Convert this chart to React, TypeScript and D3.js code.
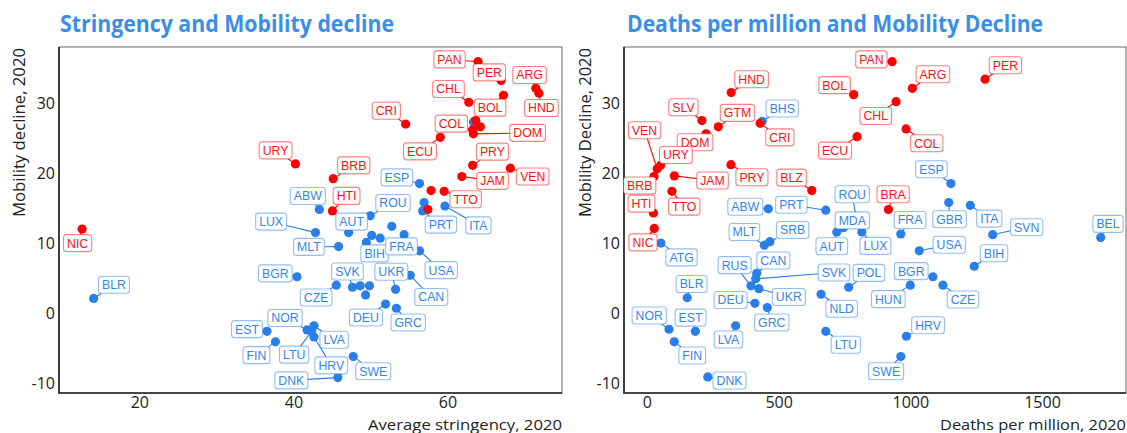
import { useEffect, useRef } from "react";
import * as d3 from "d3";

const latinAmerica = [
  "PAN", "PER", "ARG", "HND", "BOL", "CHL", "CRI", "SLV", "GTM", "COL", "DOM",
  "ECU", "PRY", "VEN", "JAM", "BLZ", "TTO", "BRA", "BRB", "HTI", "URY", "NIC",
];

// [country, average stringency, mobility decline]
const stringencyPoints: [string, number, number][] = [
  ["BLR", 14.0, 2.2], ["ABW", 43.3, 14.9], ["LUX", 42.8, 11.6], ["MLT", 45.8, 9.6],
  ["AUT", 47.1, 11.6], ["ROU", 49.9, 14.0], ["ESP", 56.3, 18.6], ["GBR", 56.9, 15.9],
  ["PRT", 56.7, 14.7], ["ITA", 59.6, 15.4], ["MDA", 52.7, 12.5], ["SVN", 50.1, 11.2],
  ["BEL", 51.2, 10.8], ["BIH", 49.4, 10.2], ["FRA", 54.3, 11.3], ["USA", 56.3, 9.0],
  ["CAN", 55.1, 5.5], ["BGR", 40.4, 5.3], ["CZE", 45.5, 4.1], ["SVK", 47.6, 3.8],
  ["RUS", 48.6, 4.0], ["HUN", 49.8, 4.0], ["NLD", 49.3, 2.7], ["UKR", 53.2, 3.5],
  ["DEU", 51.9, 1.4], ["GRC", 53.3, 0.8], ["EST", 36.5, -2.5], ["FIN", 37.6, -4.0],
  ["NOR", 41.7, -2.3], ["LTU", 42.3, -2.5], ["LVA", 42.6, -1.7], ["HRV", 42.6, -3.3],
  ["SWE", 47.7, -6.1], ["DNK", 45.7, -9.1], ["BHS", 63.3, 27.4],
  ["PAN", 63.9, 36.0], ["PER", 66.9, 33.3], ["ARG", 71.4, 32.2], ["HND", 71.8, 31.5],
  ["BOL", 67.2, 31.2], ["CHL", 62.7, 30.2], ["CRI", 54.5, 27.1], ["SLV", 63.6, 27.6],
  ["GTM", 64.2, 26.7], ["COL", 63.2, 26.3], ["DOM", 63.3, 25.7], ["ECU", 59.0, 25.2],
  ["PRY", 63.2, 21.2], ["VEN", 68.1, 20.8], ["JAM", 61.8, 19.6], ["BLZ", 57.8, 17.6],
  ["TTO", 59.5, 17.5], ["BRA", 57.4, 14.9], ["BRB", 45.1, 19.3], ["HTI", 45.0, 14.7],
  ["URY", 40.2, 21.4], ["NIC", 12.5, 12.1],
];

// [country, deaths per million, mobility decline]
const deathsPoints: [string, number, number][] = [
  ["BHS", 436, 27.5], ["ESP", 1152, 18.6], ["GBR", 1144, 15.9], ["ITA", 1226, 15.5],
  ["ROU", 792, 13.8], ["MDA", 744, 12.3], ["AUT", 719, 11.7], ["LUX", 814, 11.7],
  ["FRA", 962, 11.4], ["SVN", 1311, 11.3], ["BEL", 1721, 10.9], ["USA", 1032, 9.0],
  ["BIH", 1241, 6.8], ["BGR", 1084, 5.3], ["CZE", 1122, 4.1], ["HUN", 998, 4.1],
  ["POL", 764, 3.8], ["HRV", 983, -3.2], ["SWE", 962, -6.1], ["NLD", 659, 2.8],
  ["LTU", 677, -2.5], ["PRT", 677, 14.8], ["ABW", 459, 15.0], ["MLT", 444, 9.8],
  ["SRB", 465, 10.3], ["ATG", 51, 10.1], ["RUS", 393, 4.0], ["CAN", 415, 5.8],
  ["SVK", 411, 5.0], ["UKR", 423, 3.6], ["DEU", 408, 1.5], ["GRC", 455, 0.9],
  ["BLR", 151, 2.3], ["NOR", 82, -2.2], ["EST", 182, -2.5], ["FIN", 102, -4.0],
  ["LVA", 335, -1.7], ["DNK", 229, -9.0],
  ["PAN", 929, 36.0], ["PER", 1282, 33.5], ["ARG", 1006, 32.2], ["BOL", 783, 31.3],
  ["CHL", 944, 30.3], ["ECU", 796, 25.3], ["COL", 982, 26.4], ["BRA", 915, 14.9],
  ["HND", 318, 31.6], ["SLV", 207, 27.6], ["GTM", 269, 26.7], ["DOM", 223, 25.7],
  ["CRI", 428, 27.2], ["VEN", 37, 20.7], ["URY", 50, 21.2], ["JAM", 102, 19.7],
  ["PRY", 317, 21.3], ["BLZ", 624, 17.6], ["TTO", 93, 17.5], ["BRB", 25, 19.6],
  ["HTI", 23, 14.4], ["NIC", 26, 12.2],
];

const mobilityTicks = [-10, 0, 10, 20, 30];
const stringencyTicks = [20, 40, 60];
const deathsTicks = [0, 500, 1000, 1500];

const mobilityDomain = [-11.3, 38.1];
const stringencyDomain = [9.5, 74.8];
const deathsDomain = [-89, 1817];

// where the repelled labels ended up, relative to their point (px)
const stringencyNudge: Record<string, [number, number]> = {
  PAN: [-28.5, -2.3], PER: [-11.8, -8.2], ARG: [-6.2, -13.3], HND: [2.5, 14.7],
  CHL: [-20.3, -13.3], BOL: [-13.4, 12.3], CRI: [-19.3, -13.3], COL: [-21.3, -6],
  DOM: [54.2, -1], ECU: [-20.3, 14], PRY: [19.8, -13.7], VEN: [22.4, 8.3],
  JAM: [30.7, 4.3], TTO: [21.5, 8], BRB: [20.5, -13.3], HTI: [14.1, -15],
  URY: [-19.9, -13.6], NIC: [-4.5, 14], ESP: [-22.6, -6.2], ROU: [22.8, -12.8],
  PRT: [18.3, 13.7], ITA: [33.5, 19.4], AUT: [3, -11], ABW: [-11.5, -13.5],
  LUX: [-44.4, -11], MLT: [-29.7, 0.3], BIH: [8.3, 11], FRA: [-2.6, 11.7],
  USA: [21.7, 19.3], SVK: [-5, -15.8], UKR: [-4.3, -17.6], CAN: [21, 21.7],
  CZE: [-20.2, 12.3], BGR: [-21.7, -3.4], DEU: [-19.7, 13.4], GRC: [11.8, 14.2],
  NOR: [-22, -12], EST: [-20, -2.2], FIN: [-19, 13.3], LTU: [-17.5, 23.3],
  LVA: [20.2, 14], HRV: [17.3, 28.4], SWE: [20, 14.6], DNK: [-46.5, 2.8],
  BLR: [20.3, -13.7],
};

const deathsNudge: Record<string, [number, number]> = {
  HND: [20.4, -13.3], SLV: [-18.5, -13.3], GTM: [19.2, -14], BHS: [20, -12.7],
  CRI: [19.7, 14], DOM: [-11.1, 8.4], VEN: [-12.6, -38.6], URY: [15.3, -10.3],
  BRB: [-14.3, 9], JAM: [38.2, 4.6], PRY: [21, 12.6], BLZ: [-20.2, -13],
  HTI: [-12, -9.4], TTO: [12.3, 15.3], ABW: [-23, -2.1], PRT: [-34.4, -5.4],
  BOL: [-19, -9.5], ECU: [-22, 14], PAN: [-20.7, -2.3], PER: [20.3, -14],
  ARG: [20.5, -14], CHL: [-20.3, 14.4], COL: [20.7, 14.3], ESP: [-19.4, -14.3],
  ROU: [-3.8, -22.9], MDA: [8.9, -7.3], BRA: [4.7, -15.3], GBR: [0.8, 16.7],
  ITA: [18.9, 13.3], FRA: [9.3, -14], SVN: [34, -7.4], BEL: [7.3, -13.6],
  LUX: [13.6, 14], AUT: [-5, 14.4], USA: [30, -6], BIH: [19.7, -13],
  BGR: [-21.7, -5.6], POL: [20.3, -14.4], HUN: [-22, 14], CZE: [20, 14.3],
  NLD: [20.7, 14.5], LTU: [20.1, 13.4], HRV: [21.7, -11], SWE: [-14.7, 14.7],
  MLT: [-20, -13.2], SRB: [22.7, -11.7], NIC: [-11.3, 14], ATG: [20.7, 14.3],
  RUS: [-16.3, -20.7], CAN: [16.6, -12.7], SVK: [78.3, -6.3], UKR: [30, 8.4],
  DEU: [-24.3, -3.3], GRC: [4.5, 15], BLR: [4.4, -13.7], NOR: [-19.8, -13.7],
  EST: [-4.8, -13.7], FIN: [17.9, 13.7], LVA: [-7.2, 13.7], DNK: [21.8, 3.6],
};

const RED = "#ff0000";
const BLUE = "#2a7ee8";
const TITLE = "#3a8ee8";

function drawPanel(svg, cfg) {
  const { left, right, top, bottom, points, nudge } = cfg;
  const x = d3.scaleLinear().domain(cfg.xDomain).range([left, right]);
  const y = d3.scaleLinear().domain(mobilityDomain).range([bottom, top]);
  const g = svg.append("g");

  // title
  g.append("text")
    .attr("x", cfg.titleX)
    .attr("y", 32)
    .attr("font-family", "'Open Sans', sans-serif")
    .attr("font-weight", 700)
    .attr("font-size", 23)
    .attr("fill", TITLE)
    .attr("textLength", cfg.titleLength)
    .attr("lengthAdjust", "spacingAndGlyphs")
    .text(cfg.title);

  // frame
  g.append("rect")
    .attr("x", left).attr("y", top)
    .attr("width", right - left).attr("height", bottom - top)
    .attr("fill", "none").attr("stroke", "#666").attr("stroke-width", 1);
  g.append("path")
    .attr("d", `M${left},${top}V${bottom}H${right}`)
    .attr("fill", "none").attr("stroke", "#222").attr("stroke-width", 1.6);

  // tick labels
  g.selectAll(".xt").data(cfg.xTicks).join("text")
    .attr("x", (d) => x(d)).attr("y", 408)
    .attr("text-anchor", "middle")
    .attr("font-family", "'Open Sans', sans-serif").attr("font-size", 16)
    .attr("fill", "#222").text((d) => d);
  g.selectAll(".yt").data(mobilityTicks).join("text")
    .attr("x", left - 4).attr("y", (d) => y(d) + 5.5)
    .attr("text-anchor", "end")
    .attr("font-family", "'Open Sans', sans-serif").attr("font-size", 16)
    .attr("fill", "#222").text((d) => d);

  // axis titles
  g.append("text")
    .attr("x", right).attr("y", 430)
    .attr("text-anchor", "end")
    .attr("font-family", "'Open Sans', sans-serif").attr("font-size", 15)
    .attr("fill", "#222")
    .attr("textLength", cfg.xTitleLength).attr("lengthAdjust", "spacingAndGlyphs")
    .text(cfg.xTitle);
  g.append("text")
    .attr("transform", `translate(${cfg.yTitleX},48) rotate(-90)`)
    .attr("text-anchor", "end")
    .attr("font-family", "'Open Sans', sans-serif").attr("font-size", 16)
    .attr("fill", "#222")
    .attr("textLength", 169).attr("lengthAdjust", "spacingAndGlyphs")
    .text(cfg.yTitle);

  const isRed = (c) => latinAmerica.includes(c);
  const ordered = [...points].sort((a, b) => Number(isRed(a[0])) - Number(isRed(b[0])));

  // points
  g.selectAll(".pt").data(ordered).join("circle")
    .attr("cx", (d) => x(d[1])).attr("cy", (d) => y(d[2]))
    .attr("r", 4.6)
    .attr("fill", (d) => (isRed(d[0]) ? RED : BLUE));

  // labels with leader segments
  const labelled = points.filter((d) => nudge[d[0]]);
  const segs = g.append("g");
  const labs = g.append("g");
  labelled.forEach((d) => {
    const px = x(d[1]);
    const py = y(d[2]);
    const cx = px + nudge[d[0]][0];
    const cy = py + nudge[d[0]][1];
    const col = isRed(d[0]) ? RED : BLUE;
    const lg = labs.append("g");
    const rect = lg.append("rect");
    const t = lg.append("text")
      .attr("x", cx).attr("y", cy + 4.4)
      .attr("text-anchor", "middle")
      .attr("font-family", "'Liberation Sans', Arial, sans-serif")
      .attr("font-size", 12.3)
      .attr("fill", isRed(d[0]) ? "#f41414" : "#3485e8")
      .text(d[0]);
    const w = (t.node() as SVGTextElement).getComputedTextLength() + 7;
    const h = 17;
    rect.attr("x", cx - w / 2).attr("y", cy - h / 2)
      .attr("width", w).attr("height", h)
      .attr("rx", 3).attr("fill", "white")
      .attr("stroke", col).attr("stroke-opacity", 0.5).attr("stroke-width", 1.1);

    const dx = px - cx;
    const dy = py - cy;
    const s = Math.min(dx ? (w / 2) / Math.abs(dx) : Infinity, dy ? (h / 2) / Math.abs(dy) : Infinity);
    const len = Math.hypot(dx, dy) * (1 - s);
    if (s < 1 && len > 4) {
      segs.append("line")
        .attr("x1", cx + dx * s).attr("y1", cy + dy * s)
        .attr("x2", px).attr("y2", py)
        .attr("stroke", col).attr("stroke-width", 1.1);
    }
  });
}

export default function App() {
  const ref = useRef<SVGSVGElement>(null);

  useEffect(() => {
    if (!ref.current) return;
    const svg = d3.select(ref.current);
    svg.selectAll("*").remove();
    svg.append("rect").attr("width", 1127).attr("height", 433).attr("fill", "white");

    drawPanel(svg, {
      left: 59, right: 562, top: 47, bottom: 393,
      xDomain: stringencyDomain, xTicks: stringencyTicks,
      points: stringencyPoints, nudge: stringencyNudge,
      title: "Stringency and Mobility decline", titleX: 60, titleLength: 334,
      xTitle: "Average stringency, 2020", xTitleLength: 194,
      yTitle: "Mobility decline, 2020", yTitleX: 25,
    });
    drawPanel(svg, {
      left: 624, right: 1126, top: 47, bottom: 393,
      xDomain: deathsDomain, xTicks: deathsTicks,
      points: deathsPoints, nudge: deathsNudge,
      title: "Deaths per million and Mobility Decline", titleX: 627, titleLength: 416,
      xTitle: "Deaths per million, 2020", xTitleLength: 186,
      yTitle: "Mobility Decline, 2020", yTitleX: 591,
    });
  }, []);

  return (
    <svg
      ref={ref}
      width={1127}
      height={433}
      style={{ position: "absolute", left: 0, top: 0 }}
    />
  );
}
